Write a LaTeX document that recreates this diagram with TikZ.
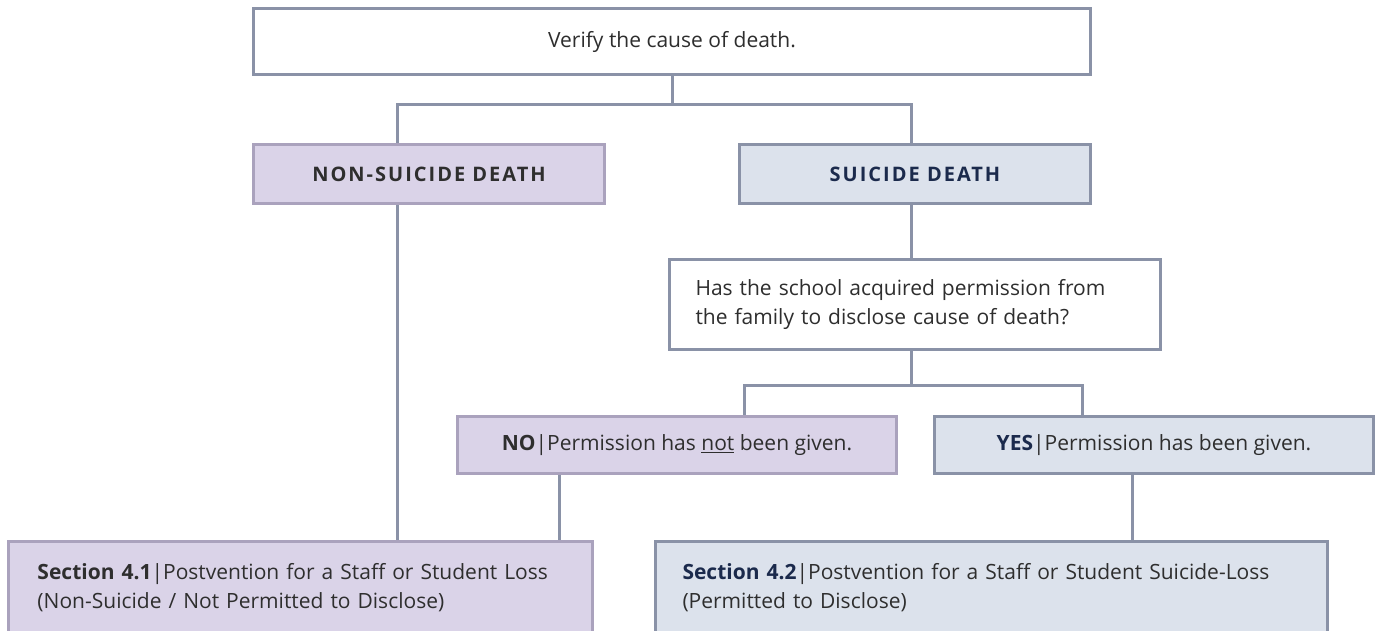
\documentclass[tikz,border=0pt]{standalone}
\usepackage{fontspec}
\setmainfont{Open Sans}
\usetikzlibrary{backgrounds}
\definecolor{edge}{HTML}{8A92A7}
\definecolor{pedge}{HTML}{AAA2BD}
\definecolor{pfill}{HTML}{DAD3E8}
\definecolor{bfill}{HTML}{DCE2EC}
\definecolor{txt}{HTML}{2E2E2E}
\definecolor{navy}{HTML}{1B2A4C}
\newcommand{\titlefont}{\fontsize{20}{24}\selectfont\bfseries\addfontfeatures{LetterSpace=10}}
\tikzset{
  box/.style={draw=edge, line width=3pt, fill=white, inner sep=0pt, text=txt,
              font=\fontsize{21}{28.5}\selectfont},
  pbox/.style={box, draw=pedge, fill=pfill},
  bbox/.style={box, fill=bfill},
  conn/.style={draw=edge, line width=3pt},
}
\begin{document}
\begin{tikzpicture}[x=1pt,y=-1pt]
\useasboundingbox (0,0) rectangle (1377,630);
\clip (0,0) rectangle (1377,630);

\node[box, minimum width=837pt, minimum height=66pt] (top) at (672,41.5) {Verify the cause of death.};
\node[pbox, minimum width=351pt, minimum height=59pt] (non) at (429,174) {\titlefont NON-SUICIDE DEATH};
\node[bbox, minimum width=351pt, minimum height=59pt] (sui) at (915,174) {\titlefont\color{navy}SUICIDE DEATH};
\node[box, minimum height=90pt, inner xsep=26pt, text width=439pt, align=left] (q) at (915,304.5)
  {Has the school acquired permission from\\the family to disclose cause of death?};
\node[pbox, minimum width=439pt, minimum height=57pt] (no) at (677,445)
  {\textbf{NO}|Permission has \underline{not} been given.};
\node[bbox, minimum width=439pt, minimum height=57pt] (yes) at (1154,445)
  {\textbf{\color{navy}YES}|Permission has been given.};
\node[pbox, minimum height=92pt, inner xsep=29pt, text width=526pt, align=left] (s41) at (300.5,587.5)
  {\textbf{Section 4.1}|Postvention for a Staff or Student Loss\\(Non-Suicide / Not Permitted to Disclose)};
\node[bbox, minimum height=92pt, inner xsep=27pt, text width=618pt, align=left] (s42) at (991.5,587.5)
  {\textbf{\color{navy}Section 4.2}|Postvention for a Staff or Student Suicide-Loss\\(Permitted to Disclose)};

\coordinate (aL) at (397,104);
\coordinate (aR) at (911,104);
\coordinate (bL) at (744,385);
\coordinate (bR) at (1082,385);
\coordinate (cL) at (559,0);
\coordinate (cR) at (1132,0);

\begin{scope}[on background layer]
\fill[white] (0,0) rectangle (1377,630);
\draw[conn] (top.south) -- (top.south |- aL);
\draw[conn] (aL |- non.north) |- (aR) -- (aR |- sui.north);
\draw[conn] (aL |- non.south) -- (aL |- s41.north);
\draw[conn] (aR |- sui.south) -- (aR |- q.north);
\draw[conn] (q.south -| aR) -- (aR |- bL);
\draw[conn] (bL |- no.north) |- (bR) -- (bR |- yes.north);
\draw[conn] (cL |- no.south) -- (cL |- s41.north);
\draw[conn] (cR |- yes.south) -- (cR |- s42.north);
\end{scope}
\end{tikzpicture}
\end{document}
